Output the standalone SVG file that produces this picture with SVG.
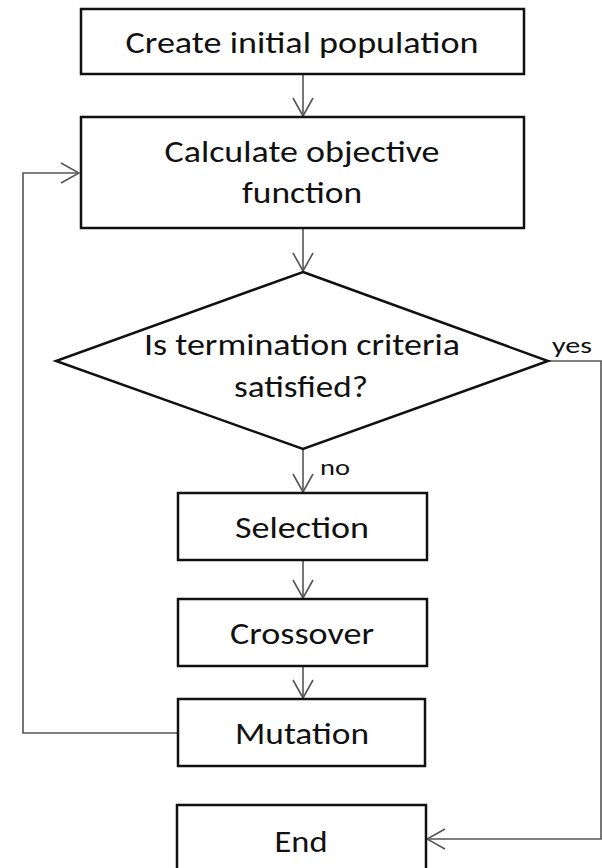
<svg xmlns="http://www.w3.org/2000/svg" width="602" height="868" viewBox="0 0 602 868">
<style>
.box{fill:#fff;stroke:#111;stroke-width:2.5}
.t{font-family:Carlito,Lato,"Liberation Sans",sans-serif;font-size:31px;fill:#111;text-anchor:middle}
.s{font-family:Carlito,Lato,"Liberation Sans",sans-serif;font-size:23px;fill:#111}
.c{fill:none;stroke:#555;stroke-width:1.6}
</style>
<defs>
<marker id="ah" viewBox="0 0 20 22" refX="19" refY="11" markerWidth="20" markerHeight="22" markerUnits="userSpaceOnUse" orient="auto">
<path d="M1,1 L19,11 L1,21" fill="none" stroke="#555" stroke-width="1.6"/>
</marker>
</defs>
<rect width="602" height="868" fill="#fff"/>
<g id="connectors">
<path class="c" d="M303,74 V116" marker-end="url(#ah)"/>
<path class="c" d="M303,228 V271" marker-end="url(#ah)"/>
<path class="c" d="M303,449 V492" marker-end="url(#ah)"/>
<path class="c" d="M303,560 V598" marker-end="url(#ah)"/>
<path class="c" d="M303,666 V698" marker-end="url(#ah)"/>
<path class="c" d="M178,733 H23 V173 H79" marker-end="url(#ah)"/>
<path class="c" d="M548,361 H601 V839 H427" marker-end="url(#ah)"/>
<text class="s" x="552" y="353" textLength="40" lengthAdjust="spacingAndGlyphs">yes</text>
<text class="s" x="320" y="475" textLength="30" lengthAdjust="spacingAndGlyphs">no</text>
</g>
<g id="create">
<rect class="box" x="81" y="9" width="443" height="65"/>
<text class="t" x="302" y="53" textLength="353" lengthAdjust="spacingAndGlyphs">Create initial population</text>
</g>
<g id="calculate">
<rect class="box" x="81" y="117" width="443" height="111"/>
<text class="t" x="302" y="162" textLength="275" lengthAdjust="spacingAndGlyphs">Calculate objective</text>
<text class="t" x="302" y="203" textLength="120" lengthAdjust="spacingAndGlyphs">function</text>
</g>
<g id="decision">
<polygon class="box" points="303,272 548,361 303,449 56,361"/>
<text class="t" x="302" y="355" textLength="316" lengthAdjust="spacingAndGlyphs">Is termination criteria</text>
<text class="t" x="301" y="397" textLength="134" lengthAdjust="spacingAndGlyphs">satisfied?</text>
</g>
<g id="selection">
<rect class="box" x="178" y="493" width="249" height="67"/>
<text class="t" x="302" y="538" textLength="134" lengthAdjust="spacingAndGlyphs">Selection</text>
</g>
<g id="crossover">
<rect class="box" x="178" y="599" width="249" height="67"/>
<text class="t" x="302" y="644" textLength="144" lengthAdjust="spacingAndGlyphs">Crossover</text>
</g>
<g id="mutation">
<rect class="box" x="178" y="699" width="247" height="67"/>
<text class="t" x="302" y="744" textLength="134" lengthAdjust="spacingAndGlyphs">Mutation</text>
</g>
<g id="end">
<rect class="box" x="177" y="805" width="249" height="70"/>
<text class="t" x="301" y="852" textLength="53" lengthAdjust="spacingAndGlyphs">End</text>
</g>
</svg>
